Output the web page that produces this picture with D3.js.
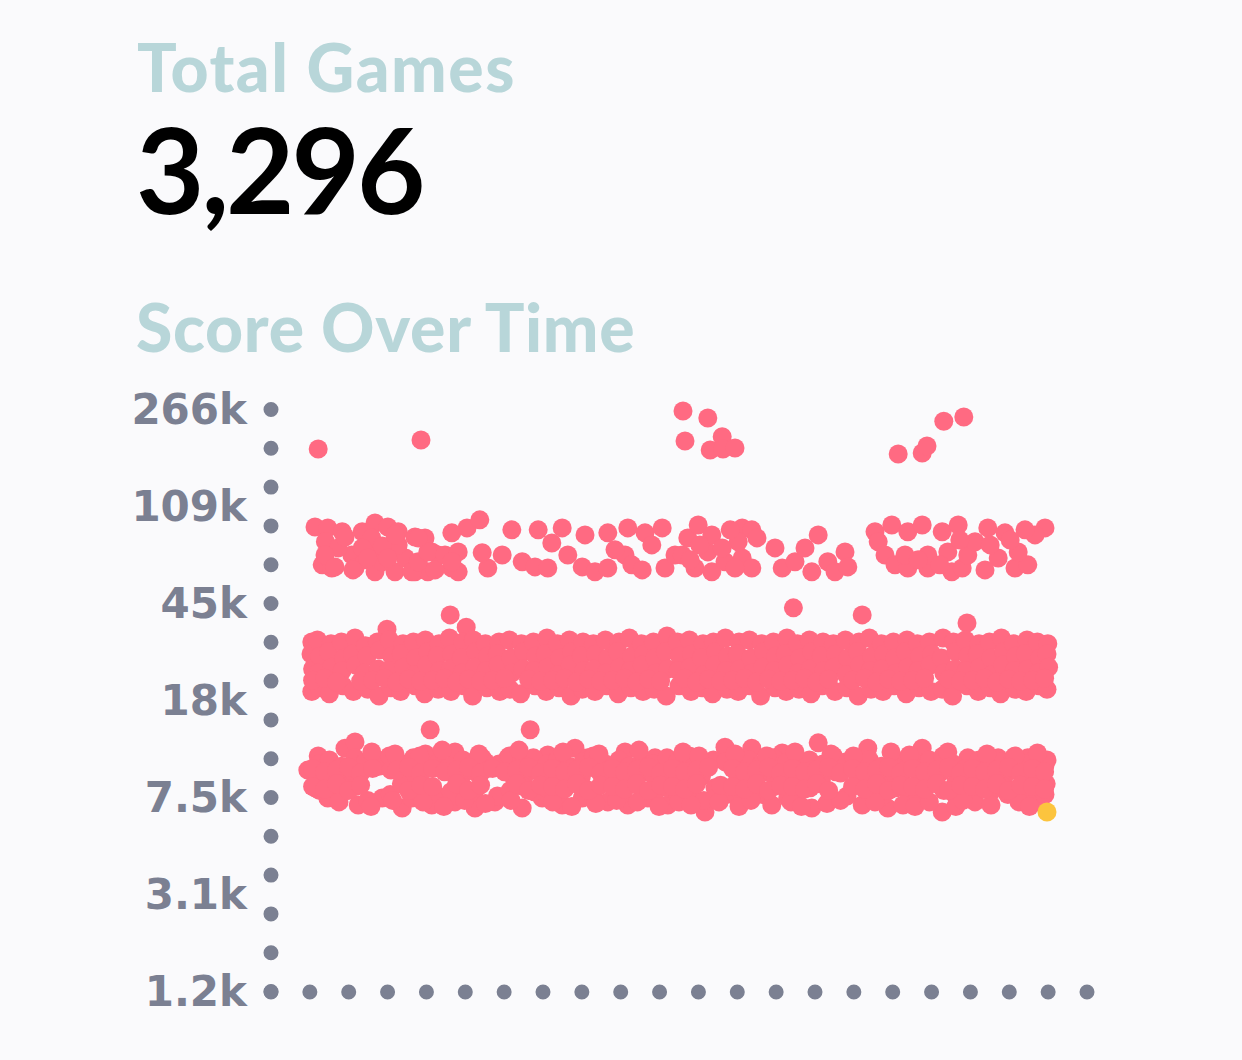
<!DOCTYPE html>
<html><head><meta charset="utf-8">
<script src="https://cdn.jsdelivr.net/npm/d3@7"></script>
<style>
html,body{margin:0;padding:0;background:#fafafc;}
svg{display:block;}
</style></head><body>
<svg id="chart" width="1242" height="1060"></svg>
<script>
// ---- data (day of play, score in thousands) ----
const totalGames = 3296;
const titleTop = "Total Games";
const titleChart = "Score Over Time";
const yTickLabels = ["1.2k","3.1k","7.5k","18k","45k","109k","266k"];
const scoreMin = 1.25, scoreMax = 266;
const dayMin = 0, dayMax = 102;

const topOutliers = [[5.9,185.7],[18.75,201.8],[51.5,263.6],[54.6,247],[51.75,200],[54.9,183.9],[56.4,208],[56.5,185.7],[58.0,187.5],[78.4,177.4],[81.4,179],[82.0,190.9],[84.1,240],[86.6,249.6]];

const highBand = [[5.5,90.6],[7.1,89.8],[8.9,86.6],[11.4,86.6],[13.0,94.0],[14.6,90.6],[15.9,86.6],[18.0,82.6],[6.8,79.0],[6.4,63.9],[7.6,62.1],[10.1,70.0],[10.5,62.1],[12.6,74.7],[13.0,59.9],[14.6,70.0],[15.5,59.9],[16.8,68.1],[18.0,59.9],[20.1,72.0],[12.6,81.9],[13.9,65.7],[8.4,74.7],[11.75,66.9],[15.9,76.8],[19.25,81.9],[19.6,59.9],[20.9,70.0],[22.6,62.1],[24.5,89.8],[26.1,96.7],
[9.25,82.6],[11.4,74.7],[13.9,76.1],[6.75,70.0],[8.0,62.7],[10.25,61.0],[12.1,68.1],[14.6,68.1],[17.6,59.9],[18.4,65.7],[19.6,72.0],[20.5,61.0],[21.75,70.0],[23.4,72.0],[23.4,59.9],[22.6,65.7],[22.6,85.8],[27.1,62.1],[18.4,81.9],[15.5,84.2],
[26.4,71.4],[28.9,70.0],[30.1,88.2],[31.4,65.7],[33.0,62.7],[33.4,88.2],[34.6,62.1],[35.1,78.2],[36.4,89.8],[37.1,70.0],[38.9,62.7],[39.25,84.2],[40.5,59.9],[42.1,85.8],[42.1,62.1],[44.25,70.0],[44.6,89.8],[45.1,63.9],[46.4,61.0],[46.75,85.8],[48.9,89.8],[49.25,62.1],[50.5,70.0],[47.6,76.8],[43.0,73.4],
[51.4,70.0],[52.1,81.9],[53.0,62.1],[53.4,92.3],[54.6,72.0],[55.1,84.2],[55.1,59.9],[56.75,65.7],[58.9,89.8],[58.9,68.1],[60.1,88.2],[60.75,81.9],[60.1,62.1],[58.4,79.0],[53.6,76.8],[56.4,74.7],[52.4,66.9],[57.4,88.2],[58.0,62.1],
[63.0,74.7],[63.9,62.1],[65.5,65.7],[66.75,74.7],[68.4,84.2],[67.6,59.9],[69.6,65.7],[70.5,59.9],[71.75,72.0],[72.1,62.7],
[75.5,86.6],[75.9,79.0],[77.6,92.3],[79.6,86.6],[81.4,92.3],[83.9,86.6],[85.9,92.3],[76.75,70.0],[78.0,63.9],[79.6,62.1],[82.1,62.1],[82.1,70.0],[84.6,72.0],[85.1,59.9],[86.4,62.1],[87.1,70.0],[88.0,79.0],[89.6,89.8],[91.75,85.8],[90.9,68.1],[93.0,62.1],[94.6,63.9],[93.4,72.0],[96.75,89.8],[95.5,84.2],[86.1,80.4],
[79.25,70.0],[80.9,66.9],[83.6,63.9],[89.9,76.8],[92.4,80.4],[94.25,88.2],[89.25,61.0]];

const midOutliers = [[14.5,35.3],[22.4,40.3],[24.4,36.0],[65.3,43.0],[73.9,40.3],[87.0,37.4]];

const midBand = [
[5.1,31.4],[5.0,28.1],[5.2,24.5],[5.1,19.9],
[5.8,32.0],[6.1,27.6],[5.9,23.6],[6.0,20.6],
[7.5,30.9],[7.2,28.7],[7.6,24.9],[7.3,19.5],
[8.8,31.4],[9.1,27.1],[8.9,24.1],[9.0,21.0],
[10.5,32.6],[10.2,28.1],[10.6,25.4],[10.3,19.9],
[11.8,30.3],[12.0,27.6],[11.7,23.6],[12.1,20.3],
[13.3,31.4],[13.6,29.2],[13.4,24.5],[13.5,19.1],
[14.8,32.0],[15.1,27.6],[14.7,24.1],[15.0,20.6],
[16.5,30.9],[16.3,28.1],[16.6,24.9],[16.2,19.9],
[17.8,31.4],[18.1,27.1],[17.9,23.2],[18.0,21.0],
[19.3,32.0],[19.6,28.7],[19.5,25.4],[19.2,19.5],
[21.0,30.9],[20.8,27.6],[21.1,24.1],[20.9,20.3],
[22.3,32.6],[22.6,28.1],[22.4,24.5],[22.5,19.9],
[24.0,31.4],[23.8,27.1],[23.9,23.6],[24.1,21.0],
[25.3,32.0],[25.6,28.7],[25.5,24.9],[25.2,19.1],
[26.8,30.9],[27.1,27.6],[26.9,24.1],[27.0,20.6],
[28.5,31.4],[28.3,28.1],[28.4,25.4],[28.6,19.9],
[29.8,32.0],[30.0,27.1],[30.1,23.6],[29.9,20.3],
[31.3,30.9],[31.6,28.7],[31.5,24.5],[31.2,19.5],
[32.8,31.4],[33.1,27.6],[32.9,24.1],[33.0,21.0],
[34.5,32.6],[34.3,28.1],[34.6,24.9],[34.4,19.9],
[35.8,30.9],[36.1,27.1],[35.9,23.2],[36.0,20.6],
[37.3,32.0],[37.6,28.7],[37.4,25.4],[37.5,19.1],
[39.0,31.4],[38.8,27.6],[39.1,24.1],[38.9,20.3],
[40.3,30.9],[40.6,28.1],[40.4,24.5],[40.5,19.9],
[41.8,32.0],[42.1,27.1],[41.9,23.6],[42.0,21.0],
[43.5,31.4],[43.3,28.7],[43.6,24.9],[43.4,19.5],
[44.8,32.6],[45.1,27.6],[44.9,24.1],[45.0,20.6],
[46.3,30.9],[46.6,28.1],[46.4,25.4],[46.5,19.9],
[47.8,31.4],[48.0,27.1],[48.1,23.6],[47.9,20.3],
[49.5,33.2],[49.3,28.7],[49.6,24.5],[49.4,19.1],
[50.8,31.4],[51.1,27.6],[50.9,24.1],[51.0,21.0],
[52.3,32.0],[52.6,28.1],[52.4,24.9],[52.5,19.9],
[54.0,30.9],[53.8,27.1],[54.1,23.2],[53.9,20.6],
[55.3,31.4],[55.6,28.7],[55.5,25.4],[55.2,19.5],
[56.8,32.6],[57.1,27.6],[56.9,24.1],[57.0,20.3],
[58.5,31.4],[58.3,28.1],[58.6,24.5],[58.4,19.9],
[59.8,32.0],[60.0,27.1],[60.1,23.6],[59.9,21.0],
[61.3,30.9],[61.6,28.7],[61.5,24.9],[61.2,19.1],
[62.8,31.4],[63.1,27.6],[62.9,24.1],[63.0,20.6],
[64.5,32.6],[64.3,28.1],[64.6,25.4],[64.4,19.9],
[65.8,30.9],[66.1,27.1],[65.9,23.6],[66.0,20.3],
[67.3,32.0],[67.6,28.7],[67.4,24.5],[67.5,19.5],
[69.0,31.4],[68.8,27.6],[69.1,24.1],[68.9,21.0],
[70.3,30.9],[70.6,28.1],[70.4,24.9],[70.5,19.9],
[71.8,32.0],[72.1,27.1],[71.9,23.2],[72.0,20.6],
[73.5,31.4],[73.3,28.7],[73.6,25.4],[73.4,19.1],
[74.8,32.6],[75.1,27.6],[74.9,24.1],[75.0,20.3],
[76.3,30.9],[76.6,28.1],[76.4,24.5],[76.5,19.9],
[77.8,31.4],[78.0,27.1],[78.1,23.6],[77.9,21.0],
[79.5,32.0],[79.3,28.7],[79.6,24.9],[79.4,19.5],
[80.8,30.9],[81.1,27.6],[80.9,24.1],[81.0,20.6],
[82.3,31.4],[82.6,28.1],[82.4,25.4],[82.5,19.9],
[84.0,32.6],[83.8,27.1],[84.1,23.6],[83.9,20.3],
[85.3,31.4],[85.6,28.7],[85.5,24.5],[85.2,19.1],
[86.8,32.0],[87.1,27.6],[86.9,24.1],[87.0,21.0],
[88.5,30.9],[88.3,28.1],[88.6,24.9],[88.4,19.9],
[89.8,31.4],[90.0,27.1],[90.1,23.2],[89.9,20.6],
[91.3,32.6],[91.6,28.7],[91.5,25.4],[91.2,19.5],
[92.8,30.9],[93.1,27.6],[92.9,24.1],[93.0,20.3],
[94.5,32.0],[94.3,28.1],[94.6,24.5],[94.4,19.9],
[95.8,31.4],[96.1,27.1],[95.9,23.6],[96.0,21.0],
[97.1,30.9],[97.0,28.1],[97.2,24.9],[97.0,20.3]];

const midFill = [[5.2,22.1],[6.7,22.5],[8.2,21.7],[11.2,21.9],[12.7,22.1],[14.2,22.5],[15.7,21.7],[17.2,22.3],[18.7,21.9],[20.2,22.1],[21.7,22.5],[23.2,21.7],[24.7,22.3],[26.2,21.9],[27.7,22.1],[29.2,22.5],[32.2,22.3],[33.7,21.9],[35.2,22.1],[36.7,22.5],[38.2,21.7],[39.7,22.3],[41.2,21.9],[42.7,22.1],[44.2,22.5],[45.7,21.7],[47.2,22.3],[48.7,21.9],[51.7,22.5],[53.2,21.7],[54.7,22.3],[56.2,21.9],[57.7,22.1],[59.2,22.5],[60.7,21.7],[62.2,22.3],[63.7,21.9],[65.2,22.1],[66.7,22.5],[68.2,21.7],[69.7,22.3],[72.7,22.1],[74.2,22.5],[75.7,21.7],[77.2,22.3],[78.7,21.9],[80.2,22.1],[81.7,22.5],[84.7,22.3],[86.2,21.9],[87.7,22.1],[89.2,22.5],[90.7,21.7],[92.2,22.3],[93.7,21.9],[95.2,22.1],[96.7,22.5]];

const lowOutliers = [[19.9,14.0],[32.4,14.0],[68.4,12.4]];

const lowBand = [
[4.6,9.65],[5.9,11.0],[5.5,8.2],[7.1,7.46],[9.25,11.8],[10.5,12.5],[10.9,7.0],[13.9,7.46],[16.4,6.8],[17.6,7.46],[20.1,7.0],[23.0,7.2],[25.5,6.8],[28.0,7.2],[31.4,6.8],[33.9,7.46],[36.4,7.0],[38.9,7.46],[42.1,7.2],[44.6,7.0],[47.1,7.46],[49.6,7.0],
[23.0,11.4],[26.4,10.8],[29.6,10.8],[34.6,11.1],[38.0,11.8],[39.6,10.8],[44.25,11.4],[48.0,10.8],
[54.25,6.56],[56.75,11.9],[60.1,11.8],[63.9,11.3],[61.4,7.7],[62.6,7.0],[67.6,6.8],[73.9,7.0],[74.6,11.8],[77.1,6.8],[81.4,11.8],[83.9,6.56],[87.1,10.8],[88.0,7.2],[90.9,10.8],[92.1,7.7],[94.6,10.8],[95.9,7.2],[96.75,10.1],[96.75,7.7],
[6.0,10.2],[5.8,9.1],[6.1,8.0],
[7.3,10.6],[7.5,9.3],[7.4,8.2],
[8.8,10.0],[9.0,8.8],[8.9,7.9],
[10.5,10.8],[10.3,9.5],[10.6,8.3],
[11.8,10.4],[12.1,7.3],
[13.3,10.6],[13.5,10.0],
[14.8,11.0],[15.0,9.65],[14.9,7.7],
[16.5,10.2],[16.3,8.5],
[17.8,10.8],[18.0,9.3],[17.9,8.0],
[19.3,11.2],[19.5,9.8],[19.4,8.3],
[21.0,10.4],[20.8,7.6],
[22.3,10.0],[22.5,7.9],
[24.0,10.6],[23.8,9.1],[24.1,8.2],
[25.3,10.2],[25.5,9.5],[25.4,7.9],
[26.8,10.4],[27.1,9.8],
[28.5,10.2],[28.3,7.6],
[29.8,11.0],[30.0,9.3],[29.9,8.0],
[31.3,10.4],[31.6,9.0],[31.5,8.3],
[32.8,10.8],[33.1,9.65],[32.9,7.9],
[34.5,10.2],[34.3,8.8],[34.6,8.1],
[35.8,10.6],[36.1,9.3],[35.9,7.7],
[37.3,10.0],[37.6,8.6],
[39.0,10.4],[38.8,9.1],[39.1,8.2],
[40.3,11.0],[40.6,9.8],[40.4,8.0],
[41.8,10.2],[42.1,8.8],
[43.5,10.6],[43.3,9.3],[43.6,8.3],
[44.8,10.0],[45.1,8.6],
[46.3,10.4],[46.6,9.5],[46.4,8.0],
[47.8,10.2],[48.0,9.0],[48.1,7.9],
[49.5,10.8],[49.3,9.3],[49.6,8.2],
[50.8,10.4],[51.1,8.8],[50.9,7.6],
[52.3,11.0],[52.6,9.65],[52.4,8.0],
[54.0,10.2],[53.8,9.1],[54.1,7.3],
[55.3,10.6],[55.5,8.2],
[56.8,10.4],[57.0,7.7],
[58.5,10.0],[58.3,9.3],[58.6,8.0],
[59.8,10.6],[60.0,8.8],[60.1,7.6],
[61.3,10.2],[61.6,9.5],
[62.8,10.8],[63.1,9.1],[62.9,8.3],
[64.5,10.4],[64.3,8.6],[64.6,7.5],
[65.8,10.0],[66.1,9.3],[65.9,8.0],
[67.3,10.6],[67.6,9.65],[67.4,8.2],
[69.0,10.2],[68.8,8.8],
[70.3,11.0],[70.6,9.5],
[71.8,10.4],[72.0,7.6],
[73.5,10.2],[73.3,9.3],
[74.8,10.6],[75.1,9.0],[74.9,8.0],
[76.3,10.0],[76.6,8.6],[76.4,7.6],
[77.8,10.8],[78.0,9.3],[78.1,8.2],
[79.5,10.4],[79.3,9.65],[79.6,7.9],
[80.8,10.2],[81.1,8.8],[80.9,7.5],
[82.3,10.6],[82.6,9.1],
[84.0,11.0],[83.8,9.5],[84.1,8.0],
[85.3,10.2],[85.6,8.6],[85.5,7.7],
[86.8,9.8],[87.1,8.3],
[88.5,10.6],[88.3,9.3],
[89.8,10.0],[90.1,8.0],
[91.3,10.4],[91.6,9.0],[91.5,8.3],
[92.8,10.8],[93.1,9.65],[92.9,8.0],
[94.5,10.2],[94.3,8.8],[94.6,7.9],
[95.8,10.0],[96.1,9.3],
[97.0,10.6],[96.9,8.5],
[12.6,11.4],[15.5,11.2],[18.6,11.0],[21.4,11.6],[26.0,11.2],[31.0,11.6],[36.5,11.4],[41.0,11.2],[46.0,11.6],[51.5,11.4],[53.5,11.0],[58.0,11.2],[62.0,11.0],[65.5,11.4],[70.0,11.2],[72.8,11.0],[77.5,11.4],[79.8,11.1],[84.6,11.4],[89.5,11.2],[93.0,11.0],[95.8,11.3],
[8.5,7.2],[12.5,6.9],[15.2,7.3],[19.0,7.2],[21.6,6.9],[24.2,7.3],[26.8,7.1],[30.0,7.3],[35.2,7.2],[37.6,6.9],[40.6,7.1],[43.2,7.3],[45.8,7.2],[48.5,6.9],[51.0,7.2],[52.5,7.0],[56.0,7.2],[58.5,6.9],[60.0,7.3],[65.0,7.2],[66.3,6.9],[69.5,7.1],[71.2,7.3],[75.5,7.2],[79.0,7.0],[80.5,6.9],[82.3,7.2],[85.6,6.9],[86.5,7.3],[90.0,7.0],[93.5,7.2],[94.8,6.9]];

const lowFill = [[5.2,9.8],[5.2,8.3],[6.7,9.5],[6.7,8.1],[8.2,9.65],[8.2,8.5],[9.7,9.9],[9.7,8.0],[11.2,9.4],[11.2,8.4],[12.7,9.8],[15.7,9.65],[17.2,9.9],[17.2,8.0],[18.7,9.4],[18.7,8.4],[20.2,9.8],[20.2,8.3],[21.7,9.5],[23.2,9.65],[23.2,8.5],[24.7,9.9],[24.7,8.0],[26.2,9.4],[26.2,8.4],[27.7,9.8],[29.2,9.5],[30.7,9.65],[30.7,8.5],[32.2,9.9],[32.2,8.0],[33.7,9.4],[33.7,8.4],[35.2,9.8],[35.2,8.3],[36.7,9.5],[36.7,8.1],[38.2,9.65],[38.2,8.5],[39.7,9.9],[39.7,8.0],[41.2,9.4],[41.2,8.4],[42.7,9.8],[42.7,8.3],[44.2,9.5],[44.2,8.1],[45.7,9.65],[45.7,8.5],[47.2,9.9],[47.2,8.0],[48.7,9.4],[48.7,8.4],[50.2,9.8],[50.2,8.3],[51.7,9.5],[51.7,8.1],[53.2,9.65],[53.2,8.5],[54.7,9.9],[56.2,8.4],[57.7,9.8],[57.7,8.3],[59.2,9.5],[59.2,8.1],[60.7,9.65],[60.7,8.5],[62.2,9.9],[62.2,8.0],[63.7,9.4],[63.7,8.4],[65.2,9.8],[65.2,8.3],[66.7,9.5],[66.7,8.1],[68.2,9.65],[68.2,8.5],[69.7,9.9],[69.7,8.0],[71.2,9.4],[72.7,9.8],[72.7,8.3],[74.2,9.5],[74.2,8.1],[75.7,9.65],[75.7,8.5],[77.2,9.9],[77.2,8.0],[78.7,9.4],[78.7,8.4],[80.2,9.8],[80.2,8.3],[81.7,9.5],[81.7,8.1],[83.2,9.65],[83.2,8.5],[84.7,9.9],[84.7,8.0],[86.2,9.4],[86.2,8.4],[87.7,9.8],[87.7,8.3],[89.2,9.5],[89.2,8.1],[90.7,9.65],[90.7,8.5],[92.2,9.9],[92.2,8.0],[93.7,9.4],[93.7,8.4],[95.2,9.8],[95.2,8.3],[96.7,9.5],[96.7,8.1]];

const latestGame = [97.0, 6.56];

// ---- drawing ----
const svg = d3.select("#chart");
const W = 1242, H = 1060;
svg.append("rect").attr("width", W).attr("height", H).attr("fill", "#fafafc");

const x = d3.scaleLinear().domain([dayMin, dayMax]).range([271, 1087]);
const y = d3.scaleLog().domain([scoreMin, scoreMax]).range([992, 410]);

const teal = "#b8d6d9", grey = "#7b8092", pink = "#ff6a82", gold = "#fcc43e";

svg.append("text").attr("x", 137).attr("y", 92)
  .attr("font-family", "Lato").attr("font-weight", 900).attr("font-size", 66)
  .attr("letter-spacing", 1.5).attr("fill", teal).text(titleTop);
svg.append("text").attr("x", 136).attr("y", 214)
  .attr("font-family", "Lato").attr("font-weight", 700).attr("font-size", 118)
  .attr("letter-spacing", -3).attr("fill", "#000").text(d3.format(",")(totalGames));
svg.append("text").attr("x", 136).attr("y", 352)
  .attr("font-family", "Lato").attr("font-weight", 900).attr("font-size", 66)
  .attr("letter-spacing", 0.7).attr("fill", teal).text(titleChart);

// dotted axes
const dotW = 15;
const yLen = y(scoreMin) - y(scoreMax), xLen = x(dayMax) - x(dayMin);
svg.append("line").attr("x1", x(dayMin)).attr("x2", x(dayMin))
  .attr("y1", y(scoreMax) - 0.5).attr("y2", y(scoreMin))
  .attr("stroke", grey).attr("stroke-width", dotW).attr("stroke-linecap", "round")
  .attr("stroke-dasharray", "0 " + (yLen / 15));
svg.append("line").attr("x1", x(dayMin)).attr("x2", x(dayMax) + 0.5)
  .attr("y1", y(scoreMin)).attr("y2", y(scoreMin))
  .attr("stroke", grey).attr("stroke-width", dotW).attr("stroke-linecap", "round")
  .attr("stroke-dasharray", "0 " + (xLen / 21));

const yTickValues = yTickLabels.map((_, i) => scoreMin * Math.pow(scoreMax / scoreMin, i / (yTickLabels.length - 1)));
const yAxis = d3.axisLeft(y).tickValues(yTickValues).tickSize(0).tickPadding(24)
  .tickFormat((d, i) => yTickLabels[i]);
const gy = svg.append("g").attr("transform", `translate(${x(dayMin)},0)`).call(yAxis);
gy.select(".domain").remove();
gy.selectAll("text").attr("font-family", "DejaVu Sans").attr("font-weight", 700)
  .attr("font-size", 42).attr("fill", grey);

// points
const allGames = [].concat(topOutliers, highBand, midOutliers, midBand, midFill, lowOutliers, lowBand, lowFill);
svg.append("g").selectAll("circle").data(allGames).join("circle")
  .attr("cx", d => x(d[0])).attr("cy", d => y(d[1])).attr("r", 9.5).attr("fill", pink);
svg.append("circle").attr("cx", x(latestGame[0])).attr("cy", y(latestGame[1]))
  .attr("r", 9.5).attr("fill", gold);
</script>
</body></html>
